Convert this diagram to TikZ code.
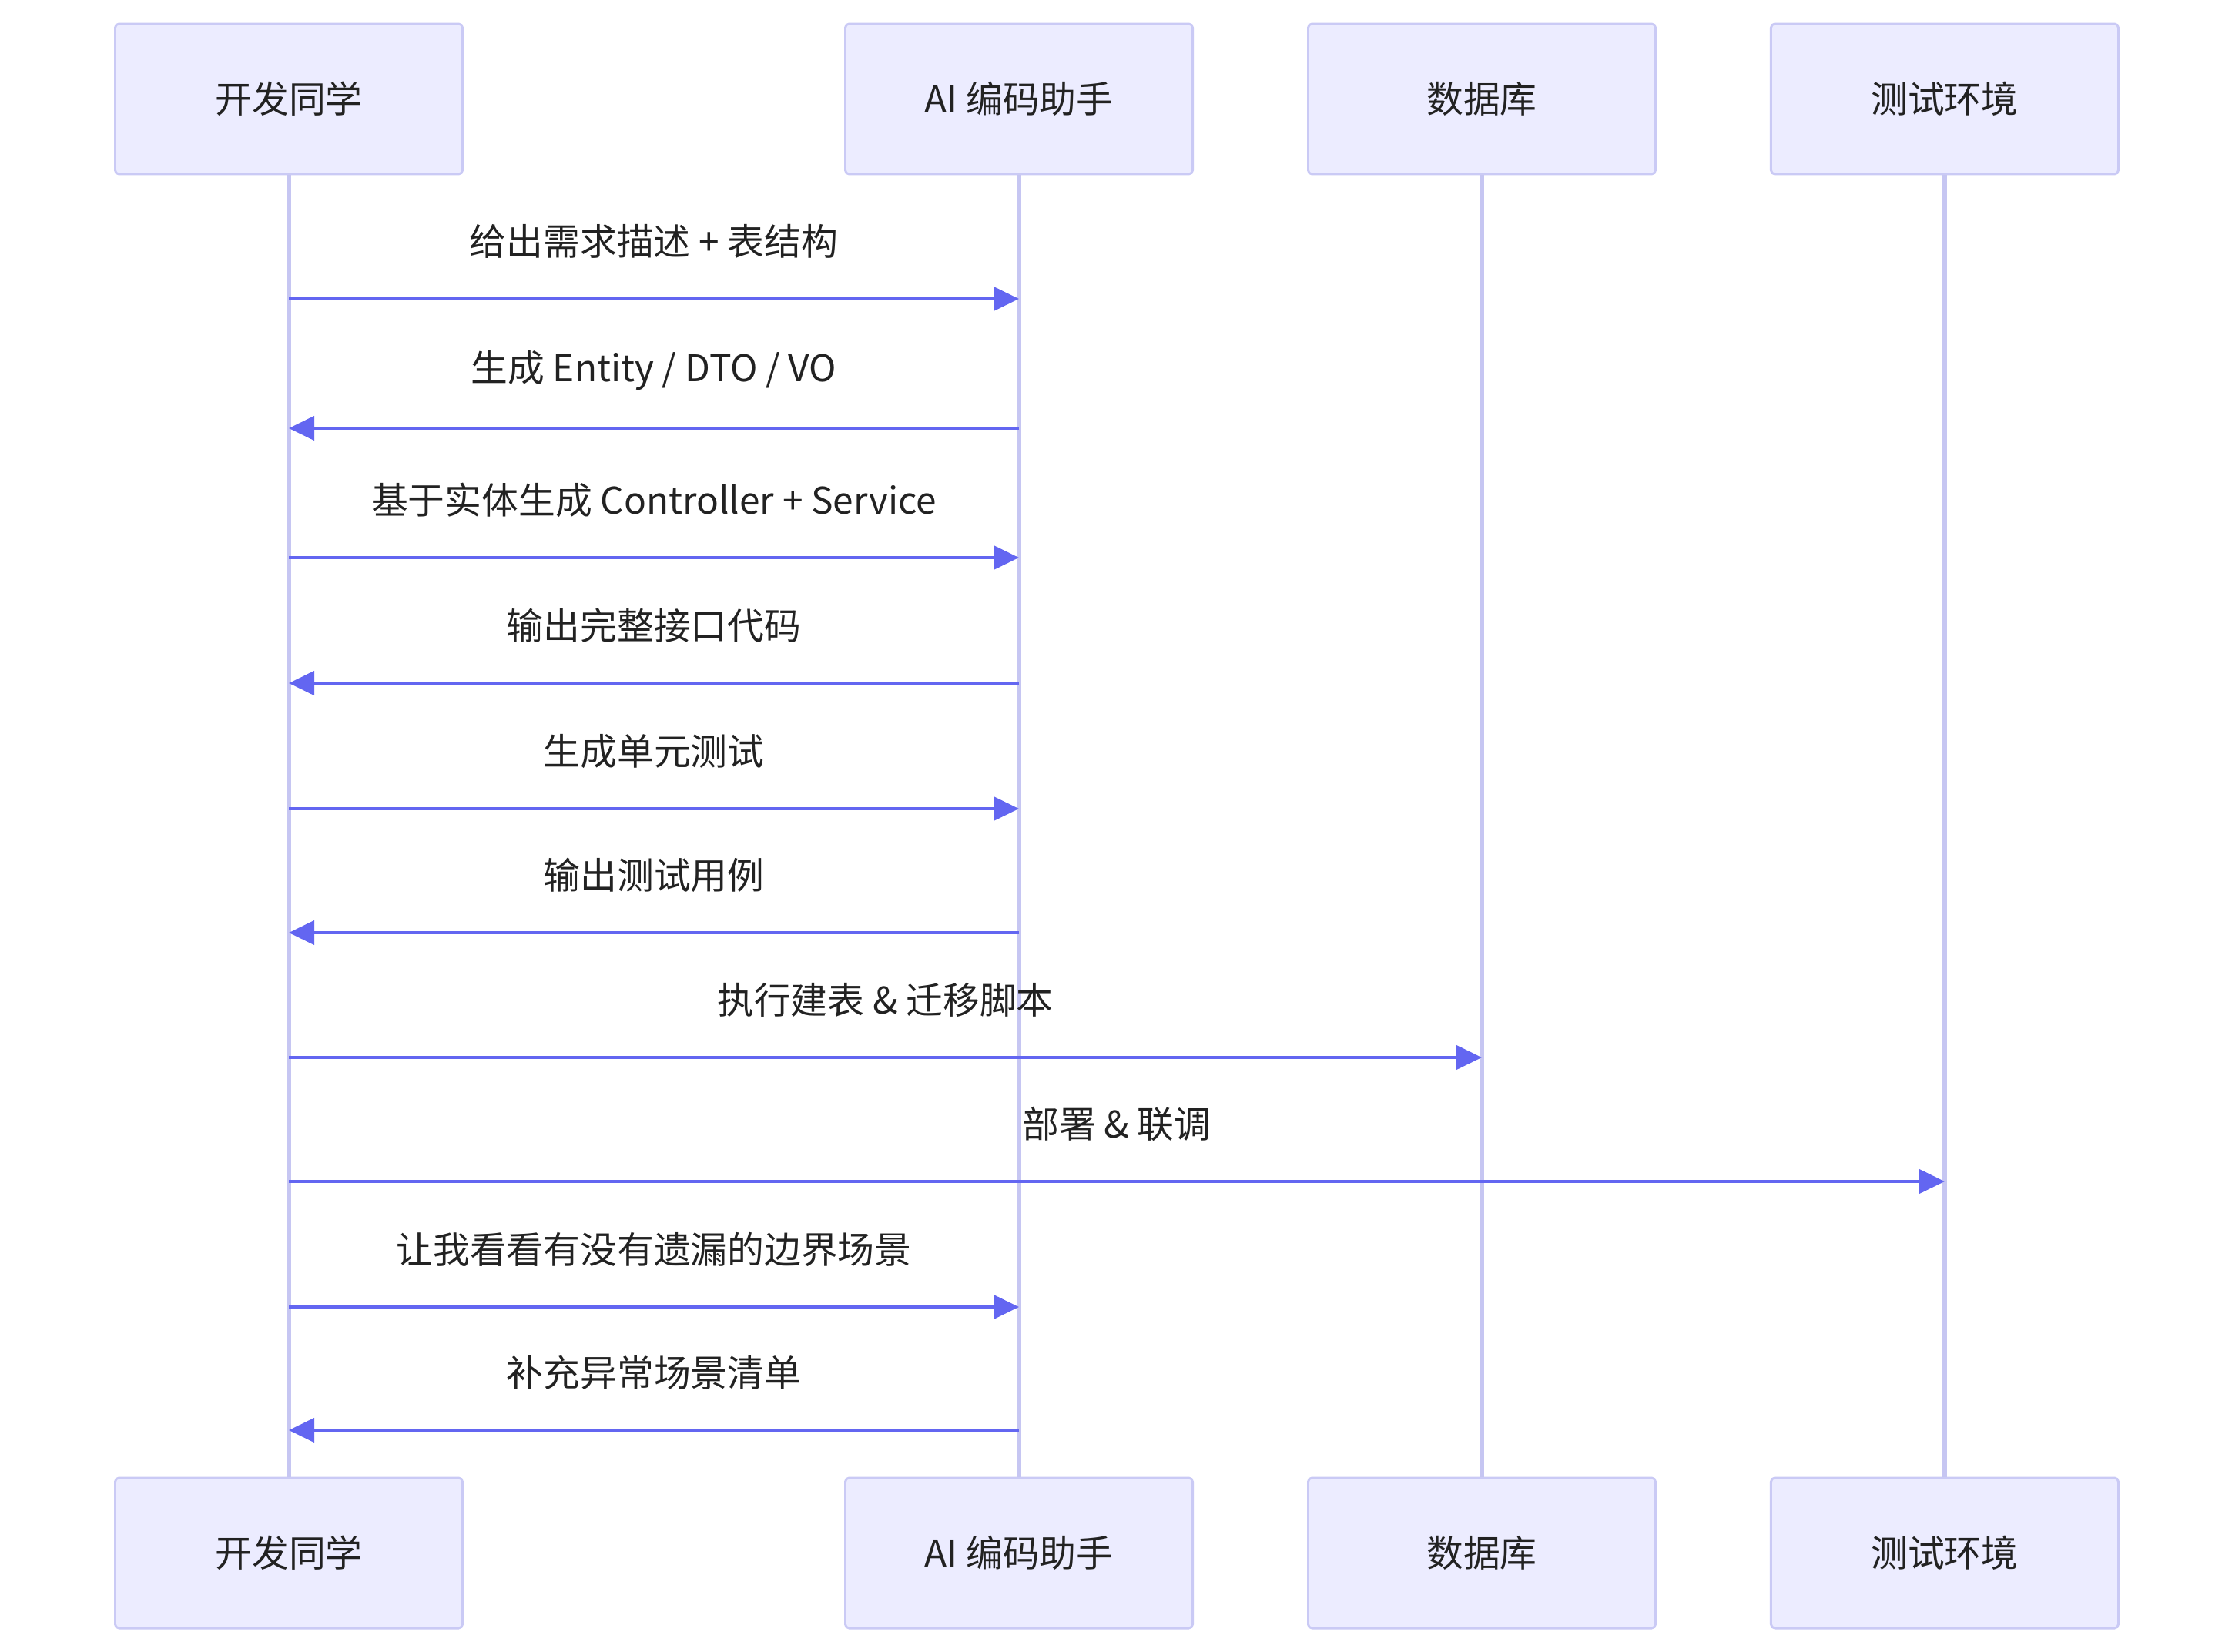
\documentclass[tikz,border=0pt]{standalone}
\usepackage{fontspec}
\setmainfont{Noto Sans CJK SC}
\usetikzlibrary{positioning,arrows.meta}
\definecolor{actorfill}{HTML}{ECECFF}
\definecolor{actorline}{HTML}{CACAF5}
\definecolor{lifecol}{HTML}{C6C6F2}
\definecolor{msgcol}{HTML}{6366F1}
\definecolor{txtcol}{HTML}{222222}
\newcommand{\seqfont}{\fontsize{27.2}{31}\selectfont}

\begin{document}
\begin{tikzpicture}[
    actor/.style={draw=actorline, fill=actorfill, line width=1.7pt, rounded corners=0.1cm,
        minimum width=9.02cm, minimum height=3.9cm, text=txtcol, font=\seqfont},
    lifeline/.style={draw=lifecol, line width=3.4pt},
    msg/.style={draw=msgcol, line width=2.4pt, -{Triangle[length=0.66cm,width=0.62cm]}},
    msglabel/.style={text=txtcol, font=\seqfont, yshift=1.5cm}
  ]
  \useasboundingbox (0,0.04) rectangle (57.96,-42.86);

  % participants, top row
  \node[actor] (dev) at (7.5,-2.53) {开发同学};
  \node[actor, right=9.88cm of dev] (ai) {AI 编码助手};
  \node[actor, right=2.94cm of ai] (db) {数据库};
  \node[actor, right=2.94cm of db] (env) {测试环境};

  % participants, bottom row
  \node[actor, below=33.8cm of dev] (devB) {开发同学};
  \node[actor, below=33.8cm of ai] (aiB) {AI 编码助手};
  \node[actor, below=33.8cm of db] (dbB) {数据库};
  \node[actor, below=33.8cm of env] (envB) {测试环境};

  % lifelines
  \draw[lifeline] (dev) -- (devB);
  \draw[lifeline] (ai) -- (aiB);
  \draw[lifeline] (db) -- (dbB);
  \draw[lifeline] (env) -- (envB);

  % message rows
  \coordinate (r1) at (0,-7.72);
  \coordinate (r2) at (0,-11.08);
  \coordinate (r3) at (0,-14.44);
  \coordinate (r4) at (0,-17.70);
  \coordinate (r5) at (0,-20.96);
  \coordinate (r6) at (0,-24.18);
  \coordinate (r7) at (0,-27.42);
  \coordinate (r8) at (0,-30.64);
  \coordinate (r9) at (0,-33.90);
  \coordinate (r10) at (0,-37.10);

  \draw[msg] (dev |- r1) -- node[msglabel] {给出需求描述 + 表结构} (ai |- r1);
  \draw[msg] (ai |- r2) -- node[msglabel] {生成 Entity / DTO / VO} (dev |- r2);
  \draw[msg] (dev |- r3) -- node[msglabel] {基于实体生成 Controller + Service} (ai |- r3);
  \draw[msg] (ai |- r4) -- node[msglabel] {输出完整接口代码} (dev |- r4);
  \draw[msg] (dev |- r5) -- node[msglabel] {生成单元测试} (ai |- r5);
  \draw[msg] (ai |- r6) -- node[msglabel] {输出测试用例} (dev |- r6);
  \draw[msg] (dev |- r7) -- node[msglabel] {执行建表 \& 迁移脚本} (db |- r7);
  \draw[msg] (dev |- r8) -- node[msglabel] {部署 \& 联调} (env |- r8);
  \draw[msg] (dev |- r9) -- node[msglabel] {让我看看有没有遗漏的边界场景} (ai |- r9);
  \draw[msg] (ai |- r10) -- node[msglabel] {补充异常场景清单} (dev |- r10);
\end{tikzpicture}
\end{document}
